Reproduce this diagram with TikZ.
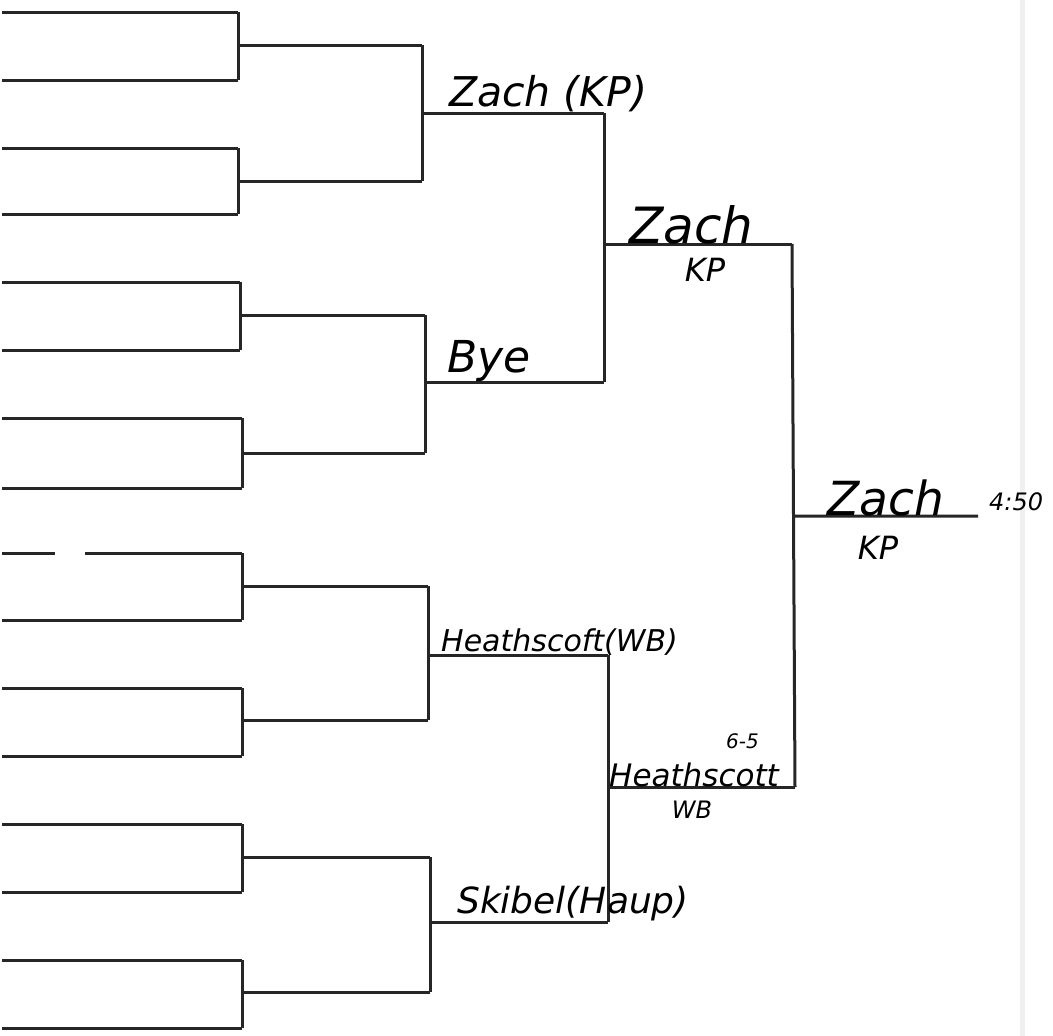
\documentclass[tikz,border=0pt]{standalone}
\usepackage{fontspec}
\setmainfont{DejaVu Sans}
\usetikzlibrary{calc,positioning}

\begin{document}
\begin{tikzpicture}[x=1pt,y=1pt,yscale=-1,
  line/.style = {draw=black!85, line width=3pt},
  hand/.style = {font=\itshape\fontsize{44}{46}\selectfont, inner sep=1pt, anchor=south west},
  small/.style = {font=\itshape\fontsize{32}{34}\selectfont, inner sep=1pt},
  tiny/.style = {font=\itshape\fontsize{24}{26}\selectfont, inner sep=1pt}]
  \useasboundingbox (0,0) rectangle (1053,1036);
  % page edge of the scan
  \draw[black!6, line width=5pt] (1022,0) -- (1022,1036);

  % first round
  \foreach \y/\x [count=\i] in {12/238, 80/238, 148/238, 214/238, 282/240, 350/240,
      418/242, 488/242, 553/242, 620/242, 688/242, 756/242, 824/242, 892/242,
      960/242, 1028/242} {
    \coordinate (s\i) at (2,\y);
    \coordinate (a\i) at (\x,\y);
  }
  \foreach \i in {1,...,8,10,11,...,16}
    \draw[line] (s\i) -- (a\i);
  \coordinate (g1) at (55,553);
  \coordinate (g2) at (85,553);
  \draw[line] (s9) -- (g1) (g2) -- (a9);

  % later rounds
  \coordinate (b1) at (422,45);
  \coordinate (b2) at (422,181);
  \coordinate (b3) at (425,315);
  \coordinate (b4) at (425,453);
  \coordinate (b5) at (428,586);
  \coordinate (b6) at (428,720);
  \coordinate (b7) at (430,857);
  \coordinate (b8) at (430,992);
  \coordinate (c1) at (604,113);
  \coordinate (c2) at (604,382);
  \coordinate (c3) at (608,655);
  \coordinate (c4) at (608,922);
  \coordinate (d1) at (792,244);
  \coordinate (d2) at (795,787);
  \coordinate (e) at (978,516);

  \foreach \p/\q/\r in {a1/a2/b1, a3/a4/b2, a5/a6/b3, a7/a8/b4, a9/a10/b5,
      a11/a12/b6, a13/a14/b7, a15/a16/b8, b1/b2/c1, b3/b4/c2, b5/b6/c3,
      b7/b8/c4, c1/c2/d1, c3/c4/d2, d1/d2/e}
    \draw[line] (\p) -- (\q) (\p |- \r) -- (\r);

  % winners
  \node[hand, font=\itshape\fontsize{41}{43}\selectfont] (w1) at (448,113) {Zach (KP)};
  \node[hand] (w2) at (446,383) {Bye};
  \node[hand, font=\itshape\fontsize{30}{32}\selectfont] (w3) at (440,657) {Heathscoft(WB)};
  \node[hand, font=\itshape\fontsize{36}{38}\selectfont] (w4) at (456,922) {Skibel(Haup)};
  \node[hand, font=\itshape\fontsize{50}{52}\selectfont] (w5) at (628,245) {Zach};
  \node[small] (w5b) at (705,270) {KP};
  \node[tiny, anchor=south east, font=\itshape\fontsize{20}{22}\selectfont] (w6s) at (760,750) {6-5};
  \node[hand, font=\itshape\fontsize{31}{33}\selectfont] (w6) at (608,788) {Heathscott};
  \node[tiny] (w6b) at (692,810) {WB};
  \node[hand, font=\itshape\fontsize{47}{49}\selectfont] (w7) at (826,517) {Zach};
  \node[small] (w7b) at (878,548) {KP};
  \node[tiny, anchor=south west] (t) at (988,512) {4:50};
\end{tikzpicture}
\end{document}
